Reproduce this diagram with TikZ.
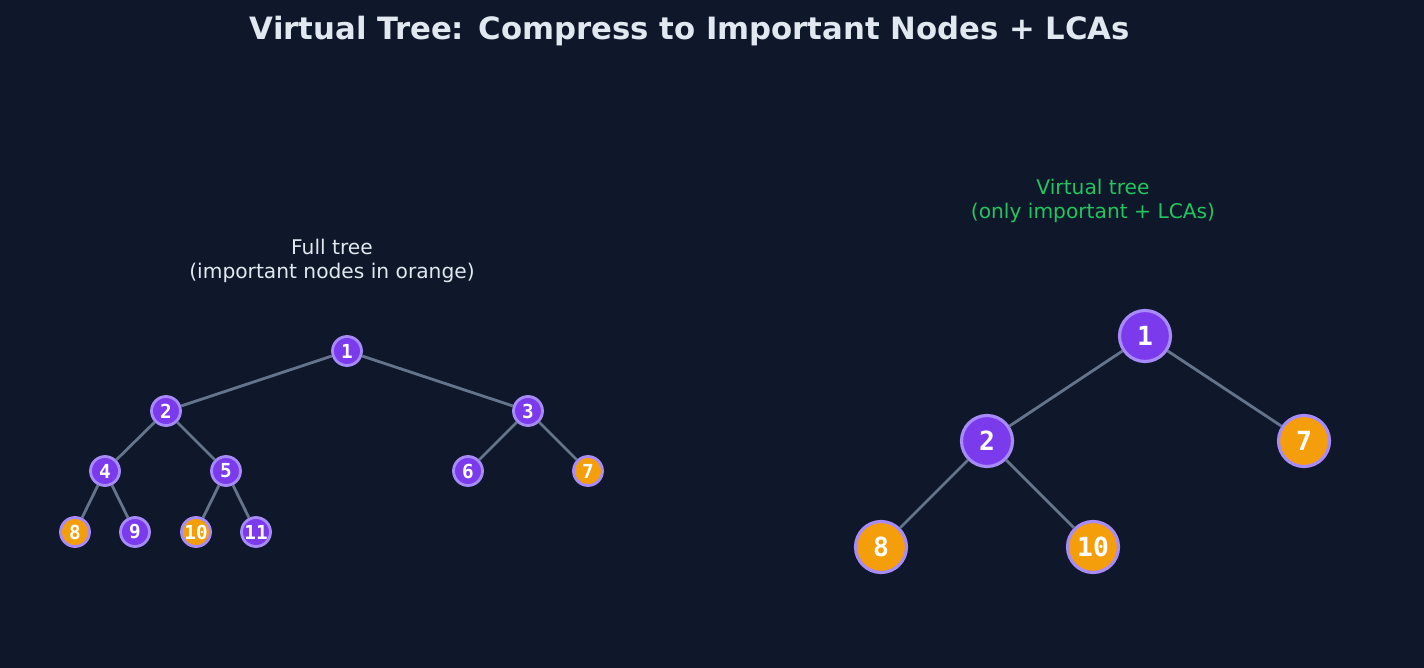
\documentclass[tikz,border=0pt]{standalone}
\usepackage{fontspec}
\setmainfont{DejaVu Sans}
\newfontfamily\monob{DejaVu Sans Mono}
\usetikzlibrary{positioning}
\definecolor{bgc}{HTML}{0F172A}
\definecolor{edgec}{HTML}{64748B}
\definecolor{purp}{HTML}{7C3AED}
\definecolor{purpb}{HTML}{A78BFA}
\definecolor{orng}{HTML}{F59E0B}
\definecolor{txtc}{HTML}{E2E8F0}
\definecolor{grn}{HTML}{22C55E}
\tikzset{
  small/.style={circle,draw=purpb,line width=1.6pt,minimum size=0.58cm,inner sep=0pt,text=white,font=\monob\bfseries\fontsize{11}{11}\selectfont},
  big/.style={circle,draw=purpb,line width=1.8pt,minimum size=1.02cm,inner sep=0pt,text=white,font=\monob\bfseries\fontsize{15}{15}\selectfont},
  inner/.style={fill=purp},
  imp/.style={fill=orng},
  link/.style={edgec,line width=1.6pt}
}
\begin{document}
\begin{tikzpicture}[x=0.02cm,y=-0.02cm]
	\fill[bgc] (0,0) rectangle (1424,668);
	\node (title) [text=txtc,font=\bfseries\fontsize{17.5}{20}\selectfont] at (690,31) {Virtual Tree: Compress to Important Nodes + LCAs};
	\node (lcap) [text=txtc,align=center,font=\fontsize{11.5}{13.5}\selectfont] at (332,261) {Full tree\\(important nodes in orange)};
	\node (rcap) [text=grn,align=center,font=\fontsize{11.5}{13.5}\selectfont] at (1093,201) {Virtual tree\\(only important + LCAs)};
	
	% full tree
	\node (f1) [small, inner] at (347,351) {1};
	\node (f2) [small, inner] at (166,411) {2};
	\node (f3) [small, inner] at (528,411) {3};
	\node (f4) [small, inner] at (105,471) {4};
	\node (f5) [small, inner] at (226,471) {5};
	\node (f6) [small, inner] at (468,471) {6};
	\node (f7) [small, imp] at (588,471) {7};
	\node (f8) [small, imp] at (75,532) {8};
	\node (f9) [small, inner] at (135,532) {9};
	\node (f10) [small, imp] at (196,532) {10};
	\node (f11) [small, inner] at (256,532) {11};
	
	\path [link]
	(f1) edge (f2)
	(f1) edge (f3)
	(f2) edge (f4)
	(f2) edge (f5)
	(f3) edge (f6)
	(f3) edge (f7)
	(f4) edge (f8)
	(f4) edge (f9)
	(f5) edge (f10)
	(f5) edge (f11);
	
	% virtual tree
	\node (v1) [big, inner] at (1145,336) {1};
	\node (v2) [big, inner] at (987,441) {2};
	\node (v7) [big, imp] at (1304,441) {7};
	\node (v8) [big, imp] at (881,547) {8};
	\node (v10) [big, imp] at (1093,547) {10};
	
	\path [link]
	(v1) edge (v2)
	(v1) edge (v7)
	(v2) edge (v8)
	(v2) edge (v10);
\end{tikzpicture}
\end{document}
